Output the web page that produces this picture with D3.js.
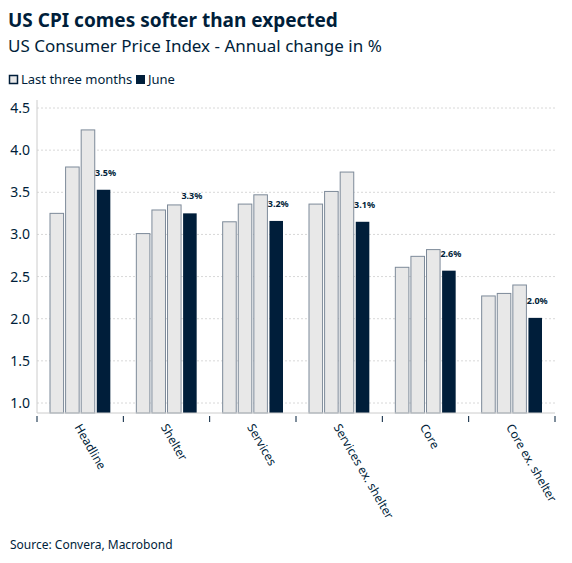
<!DOCTYPE html>
<html>
<head>
<style>
body { margin: 0; background: #fff; font-family: "Noto Sans", "Open Sans", sans-serif; }
</style>
</head>
<body>
<svg id="chart" width="572" height="563"></svg>
<script src="https://cdnjs.cloudflare.com/ajax/libs/d3/7.8.5/d3.min.js"></script>
<script>
const categories = ['Headline', 'Shelter', 'Services', 'Services ex. shelter', 'Core', 'Core ex. shelter'];
const lastThree = [
  [3.25, 3.80, 4.24],
  [3.01, 3.29, 3.35],
  [3.15, 3.36, 3.47],
  [3.36, 3.51, 3.74],
  [2.61, 2.74, 2.82],
  [2.27, 2.30, 2.40]
];
const june = [3.53, 3.25, 3.16, 3.15, 2.57, 2.01];
const juneLabels = ['3.5%', '3.3%', '3.2%', '3.1%', '2.6%', '2.0%'];
const yTicks = [1.0, 1.5, 2.0, 2.5, 3.0, 3.5, 4.0, 4.5];

const navy = '#001e3a';
const svg = d3.select('#chart');
const m = { left: 37, right: 555, top: 100, bottom: 413 };

const x = d3.scaleBand().domain(categories).range([m.left, m.right]);
const y = d3.scaleLinear().domain([1.0, 4.5]).range([403, 108]);
const inner = d3.scaleBand().domain([0, 1, 2, 3]).range([13, x.bandwidth() - 13]).paddingInner(0.13);

svg.append('text').attr('x', 8).attr('y', 27).attr('font-size', 19).attr('font-weight', 'bold')
  .attr('fill', navy).text('US CPI comes softer than expected');
svg.append('text').attr('x', 8).attr('y', 52).attr('font-size', 17).attr('fill', navy)
  .text('US Consumer Price Index - Annual change in %');

// legend
const lg = svg.append('g').attr('transform', 'translate(9,84)');
lg.append('rect').attr('x', 0.5).attr('y', -8.5).attr('width', 8).attr('height', 8)
  .attr('fill', '#e8e8e8').attr('stroke', navy).attr('stroke-width', 1.5);
lg.append('text').attr('x', 12).attr('y', 0).attr('font-size', 13).attr('fill', navy).text('Last three months');
lg.append('rect').attr('x', 127).attr('y', -9).attr('width', 9).attr('height', 9).attr('fill', navy);
lg.append('text').attr('x', 139).attr('y', 0).attr('font-size', 13).attr('fill', navy).text('June');

// grid
svg.append('g').selectAll('line').data(yTicks).join('line')
  .attr('x1', m.left).attr('x2', m.right).attr('y1', d => y(d)).attr('y2', d => y(d))
  .attr('stroke', '#d8d8d8').attr('stroke-dasharray', '2,2');

svg.append('g').selectAll('text').data(yTicks).join('text')
  .attr('x', 30).attr('y', d => y(d) + 5).attr('text-anchor', 'end')
  .attr('font-size', 14).attr('fill', navy).text(d => d.toFixed(1));

svg.append('line').attr('x1', m.left).attr('x2', m.left).attr('y1', 100).attr('y2', m.bottom)
  .attr('stroke', '#ccc');

// bars
const groups = svg.append('g').selectAll('g').data(categories).join('g')
  .attr('transform', d => `translate(${x(d)},0)`);

groups.each(function (c, i) {
  const g = d3.select(this);
  g.selectAll('rect.prev').data(lastThree[i]).join('rect')
    .attr('class', 'prev')
    .attr('x', (d, j) => inner(j)).attr('width', inner.bandwidth())
    .attr('y', d => y(d)).attr('height', d => m.bottom - y(d))
    .attr('fill', '#e8e8e8').attr('stroke', '#7d8a99').attr('stroke-width', 1);
  g.append('rect')
    .attr('x', inner(3)).attr('width', inner.bandwidth())
    .attr('y', y(june[i])).attr('height', m.bottom - y(june[i]))
    .attr('fill', navy);
  g.append('text')
    .attr('x', inner(3) + inner.bandwidth() / 2 + 2).attr('y', y(june[i]) - 14)
    .attr('text-anchor', 'middle').attr('font-size', 9).attr('font-weight', 'bold')
    .attr('fill', navy).text(juneLabels[i]);
});

// x axis
svg.append('line').attr('x1', m.left).attr('x2', m.right).attr('y1', m.bottom).attr('y2', m.bottom)
  .attr('stroke', '#ccc');
const ticks = categories.map(c => x(c)).concat([m.right]);
svg.append('g').selectAll('line').data(ticks).join('line')
  .attr('x1', d => d).attr('x2', d => d).attr('y1', m.bottom + 3).attr('y2', m.bottom + 9)
  .attr('stroke', navy);

svg.append('g').selectAll('text').data(categories).join('text')
  .attr('transform', d => `translate(${x(d) + x.bandwidth() / 2 - 6},${m.bottom + 14}) rotate(60)`)
  .attr('font-size', 12).attr('fill', navy).text(d => d);

svg.append('text').attr('x', 10).attr('y', 549).attr('font-size', 12).attr('fill', navy)
  .text('Source: Convera, Macrobond');
</script>
</body>
</html>
